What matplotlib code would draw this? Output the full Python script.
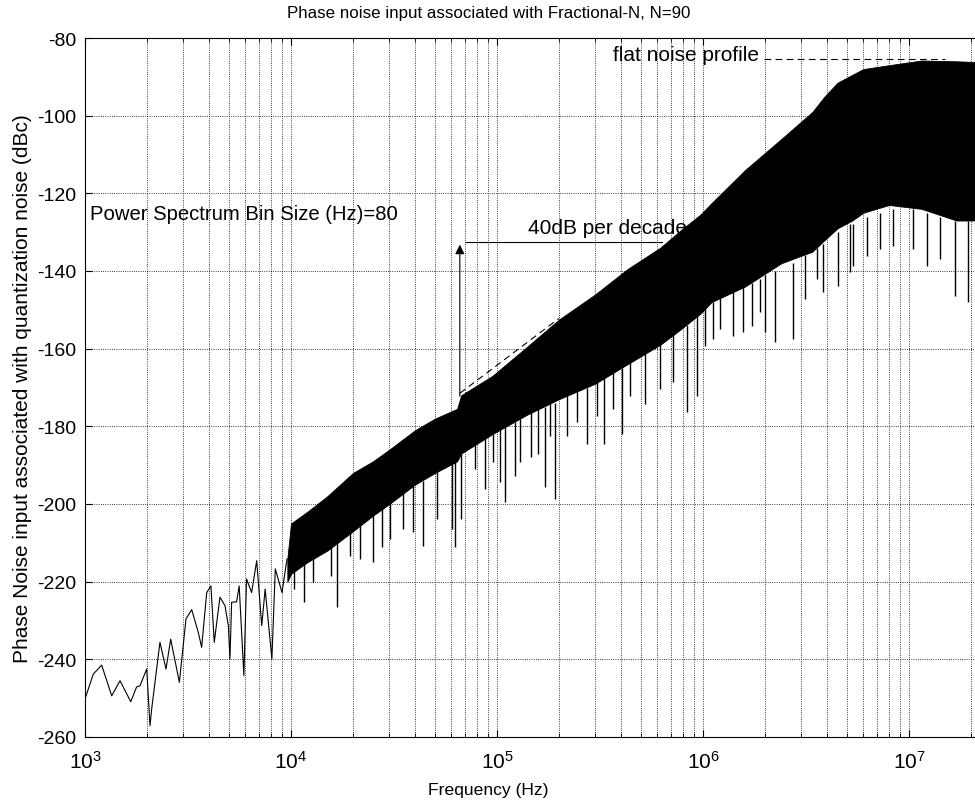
import numpy as np
import matplotlib
matplotlib.use('Agg')
from matplotlib import pyplot as plt
from matplotlib.ticker import LogLocator, NullFormatter

# sparse part of the spectrum (single trace)
low_freq = [1000, 1097, 1205, 1348, 1479, 1667, 1780, 1849, 1993, 2068, 2107,
            2311, 2473, 2606, 2871, 3092, 3296, 3549, 3684, 3898, 4086, 4241,
            4520, 4782, 4963, 5054, 5150, 5441, 5604, 5905, 6085, 6440, 6814,
            7210, 7490, 8076, 8390, 9044, 9560]
low_db = [-250.2, -243.8, -241.5, -249.4, -245.5, -250.9, -247.1, -246.8, -242.5,
          -257.1, -252.8, -235.6, -242.5, -234.8, -245.9, -229.6, -227.2, -233.1,
          -236.9, -222.8, -221.1, -235.6, -224.0, -226.2, -231.3, -239.9, -225.3,
          -225.2, -221.1, -244.2, -219.3, -222.8, -214.6, -231.3, -221.9, -239.9,
          -216.7, -222.8, -214.2]

# dense part: upper and lower edge of the solid band
env_freq = [9.6e3, 10e3, 12e3, 15e3, 20e3, 25e3, 30e3, 40e3, 50e3, 64e3, 67e3,
            95e3, 140e3, 200e3, 300e3, 430e3, 620e3, 780e3, 970e3, 1.1e6, 1.6e6,
            2.4e6, 3.4e6, 3.9e6, 4.5e6, 5.3e6, 6.0e6, 8.0e6, 11.5e6, 17e6, 24e6]
env_top = [-214.0, -205.0, -202.0, -198.0, -192.0, -189.0, -186.0, -181.0, -178.0,
           -175.5, -172.0, -167.0, -159.5, -152.5, -146.0, -139.5, -134.0, -129.5,
           -125.5, -122.5, -114.0, -106.0, -99.0, -95.0, -91.5, -89.5, -88.0, -87.0,
           -85.8, -86.0, -86.3]
env_bot = [-220.0, -218.0, -215.0, -212.0, -207.0, -203.0, -200.0, -195.0, -192.0,
           -189.0, -187.0, -182.0, -177.0, -173.0, -169.0, -164.0, -159.0, -155.0,
           -151.0, -148.0, -144.0, -138.0, -135.0, -132.0, -129.0, -127.0, -125.0,
           -123.0, -124.0, -127.0, -127.0]

# deep downward spikes below the band: frequency, band edge, tip
spike_freq = [10.3e3, 11.5e3, 12.8e3, 15.6e3, 16.8e3, 19.3e3, 21.6e3, 24.9e3,
              27.5e3, 30.3e3, 35.1e3, 39.3e3, 43.9e3, 50.9e3, 60.3e3, 62.5e3,
              67e3, 78.2e3, 87.5e3, 95.6e3, 103.5e3, 109e3, 122e3, 129e3, 147e3,
              158e3, 171e3, 181e3, 191e3, 218e3, 244e3, 272e3, 305e3, 331e3,
              366e3, 403e3, 443e3, 523e3, 620e3, 714e3, 834e3, 931e3, 1.02e6,
              1.12e6, 1.21e6, 1.40e6, 1.56e6, 1.72e6, 1.89e6, 2.0e6, 2.24e6,
              2.73e6, 3.13e6, 3.56e6, 3.83e6, 4.52e6, 5.17e6, 5.35e6, 6.24e6,
              7.23e6, 8.36e6, 10.4e6, 12.2e6, 14.1e6, 16.7e6, 19.3e6]
spike_base = [-216, -214, -213, -210, -209, -207, -205, -202, -200, -199, -197,
              -195, -194, -191, -189, -189, -186, -184, -183, -182, -181, -180,
              -179, -178, -176, -175, -175, -174, -174, -172, -171, -170, -168,
              -167, -166, -165, -163, -161, -158, -156, -154, -151, -149, -148,
              -147, -145, -144, -143, -142, -141, -140, -138, -136, -134, -133,
              -130, -128, -128, -126, -125, -124, -124, -125, -126, -127, -127]
spike_tip = [-222.0, -225.3, -220.1, -218.5, -226.6, -213.3, -214.2, -215.0,
             -211.2, -209.0, -206.4, -207.2, -210.7, -203.9, -206.4, -211.0,
             -203.9, -191.0, -196.1, -189.2, -194.4, -199.6, -192.7, -189.2,
             -187.9, -187.1, -195.7, -182.5, -198.7, -182.5, -178.9, -184.6,
             -177.3, -184.6, -175.5, -182.0, -172.2, -174.3, -170.4, -168.6,
             -176.4, -172.2, -159.2, -157.5, -155.0, -156.7, -155.7, -154.2,
             -150.6, -155.7, -158.3, -157.5, -147.2, -142.1, -145.5, -143.8,
             -140.3, -138.7, -136.1, -134.3, -133.5, -134.3, -138.7, -136.9,
             -146.4, -148.0]

# annotation geometry (data units)
slope_ref_f = [66e3, 200e3]
slope_ref_db = [-171.5, -152.2]
flat_f = [1.97e6, 1.5e7]
flat_db = [-85.5, -85.5]
arrow_f = 66e3
arrow_db = [-173.0, -132.5]
hline_f = [70.7e3, 634e3]
hline_db = -132.5

plt.rcParams['font.family'] = ['Liberation Sans', 'DejaVu Sans']
plt.rcParams['mathtext.fontset'] = 'custom'
plt.rcParams['mathtext.rm'] = 'Liberation Sans'
plt.rcParams['mathtext.it'] = 'Liberation Sans'
plt.rcParams['axes.unicode_minus'] = False

fig = plt.figure(figsize=(9.75, 8.04), dpi=100)
ax = fig.add_axes([85 / 975, 1 - 738 / 804, 900 / 975, 699 / 804])

ax.plot(low_freq, low_db, color='k', lw=0.8)
ax.fill_between(env_freq, env_bot, env_top, color='k', lw=0.6)
ax.vlines(spike_freq, spike_tip, spike_base, color='k', lw=1.0)

ax.plot(slope_ref_f, slope_ref_db, color='k', lw=0.8, ls=(0, (6, 4)))
ax.plot(flat_f, flat_db, color='k', lw=0.8, ls=(0, (6, 4)))
ax.annotate('', xy=(arrow_f, arrow_db[1]), xytext=(arrow_f, arrow_db[0]),
            arrowprops=dict(arrowstyle='-|>', color='k', lw=0.8,
                            mutation_scale=14))
ax.plot(hline_f, [hline_db, hline_db], color='k', lw=0.8)

ax.text(141e3, -128.7, '40dB per decade', fontsize=15, va='center')
ax.text(367e3, -84.3, 'flat noise profile', fontsize=15, va='center')
ax.text(1057, -125.3, 'Power Spectrum Bin Size (Hz)=80', fontsize=14.6, va='center')

ax.set_xscale('log')
ax.set_xlim(1e3, 10 ** (3 + 900 / 206))
ax.set_ylim(-260, -80)
ax.set_yticks(np.arange(-260, -79, 20))
ax.xaxis.set_minor_locator(LogLocator(base=10, subs=np.arange(2, 10)))
ax.xaxis.set_minor_formatter(NullFormatter())
ax.tick_params(which='both', direction='in', top=True, right=True)
ax.tick_params(axis='y', labelsize=14, pad=6)
ax.tick_params(axis='x', labelsize=15, pad=9)
ax.tick_params(which='major', length=5)
ax.tick_params(which='minor', length=3)
ax.grid(True, which='major', ls=':', color='k', lw=0.6)
ax.grid(True, which='minor', axis='x', ls=':', color='k', lw=0.6)
for s in ax.spines.values():
    s.set_linewidth(0.8)

ax.set_title('Phase noise input associated with Fractional-N, N=90', fontsize=12.2,
             pad=15, x=(489 - 85) / 900)
ax.set_xlabel('Frequency (Hz)', fontsize=12.6, labelpad=6)
ax.xaxis.set_label_coords((488 - 85) / 900, -0.065)
ax.set_ylabel('Phase Noise input associated with quantization noise (dBc)', fontsize=15,
              labelpad=4)

fig.savefig('out.png', dpi=100)
